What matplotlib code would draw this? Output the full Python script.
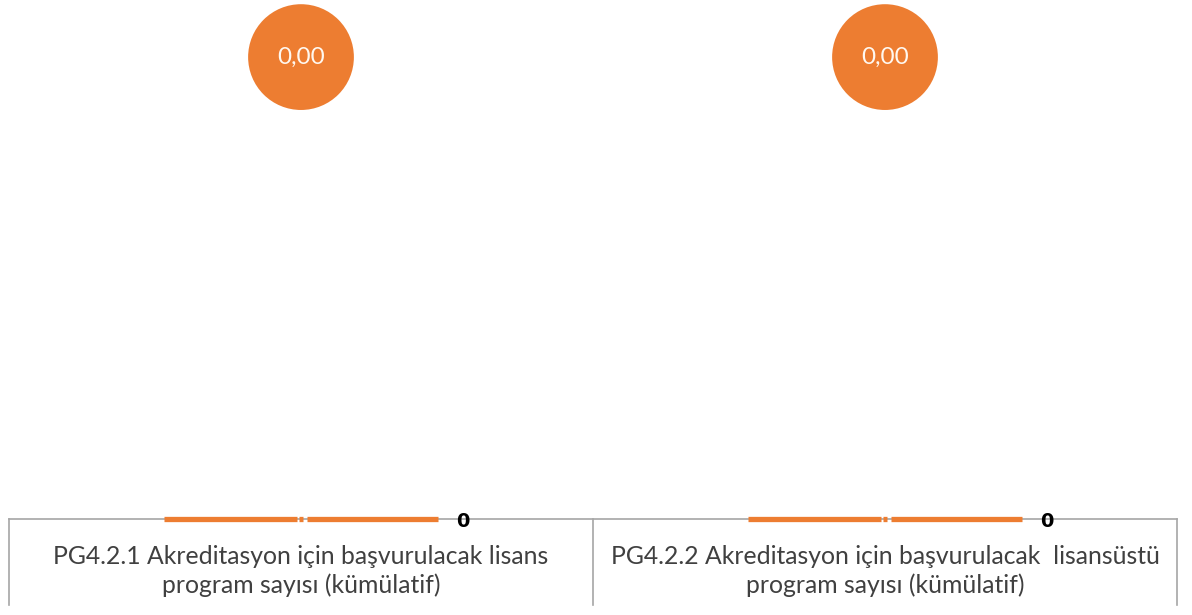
import matplotlib

matplotlib.use("Agg")
import matplotlib.pyplot as plt


CATEGORIES = [
    "PG4.2.1 Akreditasyon için başvurulacak lisans\nprogram sayısı (kümülatif)",
    "PG4.2.2 Akreditasyon için başvurulacak  lisansüstü\nprogram sayısı (kümülatif)",
]
LINE_VALUES = [0, 0]
CIRCLE_VALUES = [0.00, 0.00]

ORANGE = "#ED7D31"
GRID_GRAY = "#A6A6A6"
TEXT_GRAY = "#404040"
FONT = ["Lato", "DejaVu Sans"]

plt.rcParams["font.family"] = FONT

fig = plt.figure(figsize=(11.92, 6.15), dpi=100)
# axes spans the plot area; the category table hangs below it
ax = fig.add_axes([9 / 1192, 1 - 519 / 615, 1168 / 1192, 519 / 615])
ax.set_xlim(-0.5, len(CATEGORIES) - 0.5)
ax.set_ylim(0, 1)
for side in ("left", "right", "top"):
    ax.spines[side].set_visible(False)
ax.spines["bottom"].set_color(GRID_GRAY)
ax.spines["bottom"].set_linewidth(1.2)
ax.set_yticks([])
ax.set_xticks([])

# secondary scale for the round markers, zero sits near the top
ax2 = ax.twinx()
ax2.set_ylim(-0.89, 0.11)
ax2.axis("off")

half = 0.234
for i, (value, circle) in enumerate(zip(LINE_VALUES, CIRCLE_VALUES)):
    pieces = [(i - half, i - 0.0075), (i - 0.003, i + 0.003), (i + 0.0095, i + half)]
    for x0, x1 in pieces:
        ax.plot([x0, x1], [value, value], color=ORANGE, linewidth=3.8,
                solid_capstyle="butt", clip_on=False, zorder=3)
    ax.annotate(f"{value}", xy=(i + half, value), xytext=(13, -1.5),
                textcoords="offset points", ha="left", va="center",
                fontsize=14, fontweight="bold", color="black",
                family="DejaVu Sans", annotation_clip=False)

    ax2.scatter([i], [circle], s=5800, color=ORANGE, edgecolors="none", zorder=4)
    ax2.text(i, circle, f"{circle:.2f}".replace(".", ","), ha="center", va="center",
             fontsize=17.5, color="#FFF8F0", zorder=5)

# category table: vertical dividers and labels below the axis
trans = ax.get_xaxis_transform()
depth = -86 / 519
for x in [-0.5 + k for k in range(len(CATEGORIES) + 1)]:
    ax.plot([x, x], [0, depth], color=GRID_GRAY, linewidth=1.2,
            transform=trans, clip_on=False)

for i, label in enumerate(CATEGORIES):
    ax.text(i, -52 / 519, label, transform=trans, ha="center", va="center",
            fontsize=17.8, color=TEXT_GRAY, linespacing=1.32)

fig.savefig("out.png", dpi=100)
plt.close(fig)
